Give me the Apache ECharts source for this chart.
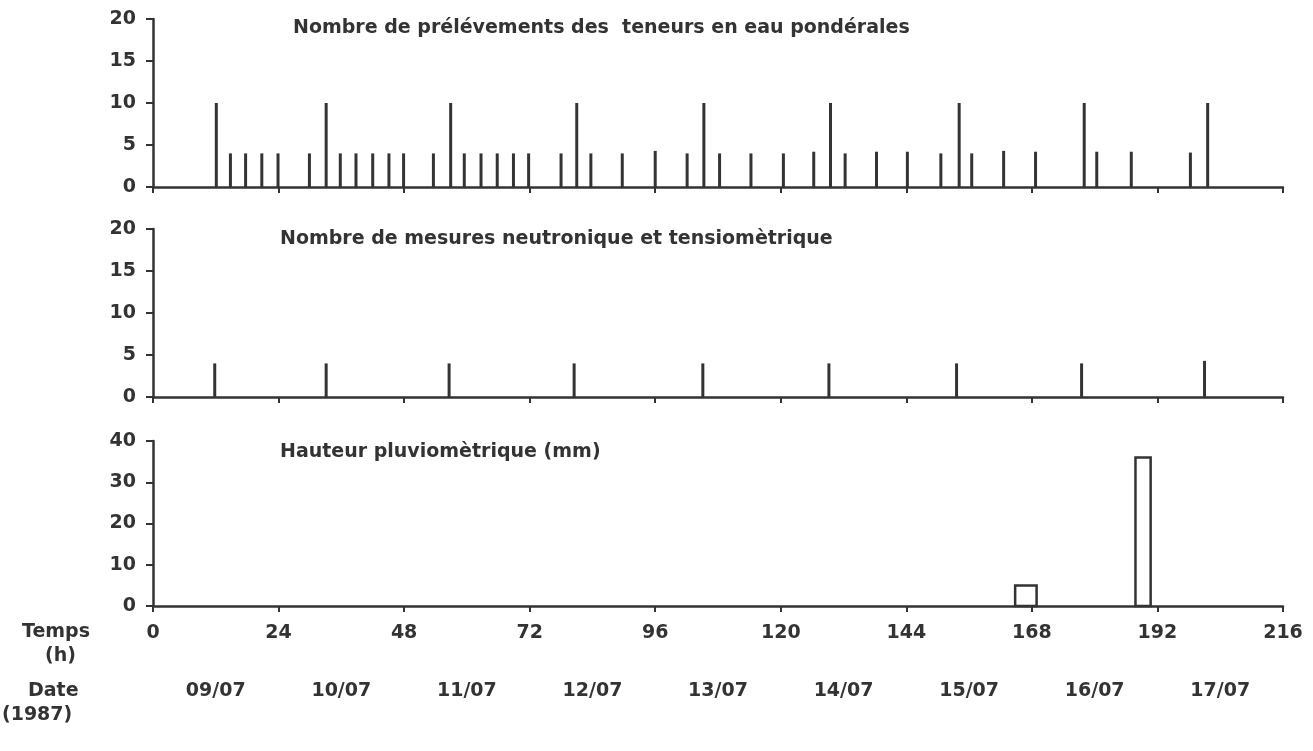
<!DOCTYPE html>
<html>
<head>
<meta charset="utf-8">
<title>Prélèvements, mesures et pluie</title>
<script src="https://cdn.jsdelivr.net/npm/echarts@6/dist/echarts.min.js"></script>
<style>
    html, body { margin: 0; padding: 0; background: #fff; }
    #chart { width: 1313px; height: 751px; }
</style>
</head>
<body>
<div id="chart"></div>
<script>
// Data (time in hours from the start)
const sampleHours = [12.1, 14.8, 17.7, 20.8, 23.9, 29.9,
    33.1, 35.8, 38.8, 42.0, 45.1, 47.9, 53.6,
    56.9, 59.5, 62.7, 65.8, 68.9, 71.8, 78.0,
    81.0, 83.7, 89.7, 96.0, 102.1,
    105.3, 108.3, 114.3, 120.5, 126.3,
    129.5, 132.3, 138.3, 144.2, 150.6,
    154.1, 156.5, 162.6, 168.7,
    178.0, 180.4, 187.0, 198.3,
    201.6];
const sampleCounts = [10, 4, 4, 4, 4, 4,
    10, 4, 4, 4, 4, 4, 4,
    10, 4, 4, 4, 4, 4, 4,
    10, 4, 4, 4.3, 4,
    10, 4, 4, 4, 4.2,
    10, 4, 4.2, 4.2, 4,
    10, 4, 4.3, 4.2,
    10, 4.2, 4.2, 4.1,
    10];

const neutronHours = [11.8, 33.1, 56.6, 80.5, 105.1, 129.2, 153.6, 177.5, 201.0];
const neutronCounts = [4, 4, 4, 4, 4, 4, 4, 4, 4.3];

const rainStart = [164.8, 187.8];
const rainEnd = [168.9, 190.7];
const rainMm = [5, 36];

const dateLabels = ['09/07', '10/07', '11/07', '12/07', '13/07', '14/07', '15/07', '16/07', '17/07'];

const panelTitles = [
    'Nombre de prélévements des  teneurs en eau pondérales',
    'Nombre de mesures neutronique et tensiomètrique',
    'Hauteur pluviomètrique (mm)'
];

const INK = '#333';
const FONT = 'DejaVu Sans';
const FONT_SIZE = 19;

const chart = echarts.init(document.getElementById('chart'));

const grids = [
    { left: 153, right: 30, top: 19, height: 168 },
    { left: 153, right: 30, top: 229, height: 168 },
    { left: 153, right: 30, top: 441, height: 165 }
];

const lineStyle = { color: INK, width: 2.5 };
const labelStyle = { color: INK, fontFamily: FONT, fontWeight: 'bold', fontSize: FONT_SIZE };

const makeX = (gridIndex, showLabels) => ({
    type: 'value', gridIndex, min: 0, max: 216, interval: 24,
    axisLine: { show: true, onZero: false, lineStyle },
    axisTick: { show: true, length: 6, lineStyle: { color: INK, width: 2 } },
    axisLabel: Object.assign({ show: showLabels, margin: 18 }, labelStyle),
    splitLine: { show: false }
});

const makeY = (gridIndex, max, interval) => ({
    type: 'value', gridIndex, min: 0, max, interval,
    axisLine: { show: true, lineStyle },
    axisTick: { show: true, length: 7, lineStyle: { color: INK, width: 2 } },
    axisLabel: Object.assign({ margin: 17 }, labelStyle),
    splitLine: { show: false }
});

const dateAxis = {
    type: 'value', gridIndex: 2, min: 0, max: 216, interval: 12,
    position: 'bottom', offset: 58,
    axisLine: { show: false },
    axisTick: { show: false },
    splitLine: { show: false },
    axisLabel: Object.assign({
        margin: 18,
        formatter: (v) => (v % 24 === 12 ? dateLabels[(v - 12) / 24] || '' : '')
    }, labelStyle)
};

const spikeData = sampleHours.map((h, i) => [h, sampleCounts[i]]);
const neutronData = neutronHours.map((h, i) => [h, neutronCounts[i]]);
const rainData = rainStart.map((s, i) => [s, rainEnd[i], rainMm[i]]);

const sideText = (text, left, top) => ({
    type: 'text', left, top,
    style: { text, fill: INK, font: 'bold ' + FONT_SIZE + 'px "' + FONT + '"' }
});

const option = {
    animation: false,
    backgroundColor: '#fff',
    title: [
        { text: panelTitles[0], left: 288, top: 14 },
        { text: panelTitles[1], left: 275, top: 225 },
        { text: panelTitles[2], left: 275, top: 438 }
    ].map(t => Object.assign(t, {
        textStyle: { color: INK, fontFamily: FONT, fontWeight: 'bold', fontSize: FONT_SIZE }
    })),
    grid: grids,
    xAxis: [makeX(0, false), makeX(1, false), makeX(2, true), dateAxis],
    yAxis: [makeY(0, 20, 5), makeY(1, 20, 5), makeY(2, 40, 10)],
    series: [
        {
            type: 'bar', xAxisIndex: 0, yAxisIndex: 0,
            barWidth: 3, data: spikeData,
            itemStyle: { color: INK }
        },
        {
            type: 'bar', xAxisIndex: 1, yAxisIndex: 1,
            barWidth: 3, data: neutronData,
            itemStyle: { color: INK }
        },
        {
            type: 'custom', xAxisIndex: 2, yAxisIndex: 2,
            encode: { x: [0, 1], y: 2 },
            data: rainData,
            renderItem: (params, api) => {
                const p0 = api.coord([api.value(0), 0]);
                const p1 = api.coord([api.value(1), api.value(2)]);
                return {
                    type: 'rect',
                    shape: { x: p0[0], y: p1[1], width: p1[0] - p0[0], height: p0[1] - p1[1] },
                    style: { fill: '#fff', stroke: INK, lineWidth: 2.5 }
                };
            }
        }
    ],
    graphic: [
        sideText('Temps', 22, 623),
        sideText('(h)', 45, 647),
        sideText('Date', 28, 682),
        sideText('(1987)', 2, 706)
    ]
};

chart.setOption(option);
</script>
</body>
</html>
